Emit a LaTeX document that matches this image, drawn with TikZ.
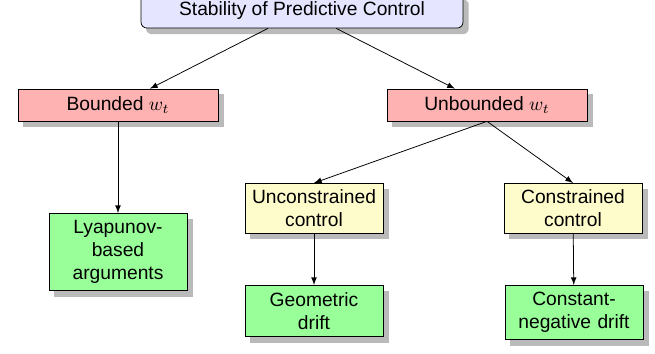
\documentclass[tikz,border=0pt]{standalone}
\usepackage{amsmath}
\usepackage{fontspec}
\setmainfont{Liberation Sans}
\usepackage{xcolor}
\usetikzlibrary{arrows}
\usetikzlibrary{backgrounds}
\begin{document}
\begin{tikzpicture}[x=0.52pt, y=-0.52pt]
\tikzstyle{pointer} = [-latex]
\tikzstyle{boxshadow} = [fill=black!27]
\tikzstyle{base} = [draw, fill=white, align=center, inner sep=3pt]
\tikzstyle{rootbox} = [base, rounded corners=3pt, fill=blue!10, minimum width=167.4pt, minimum height=17.7pt]
\tikzstyle{casebox} = [base, fill=red!30, minimum width=104pt, minimum height=16.6pt]
\tikzstyle{ctrlbox} = [base, fill=yellow!20, text width=65.8pt, inner ysep=3.2pt, anchor=north]
\tikzstyle{resbox} = [base, fill=green!40, text width=65.8pt, inner ysep=3.6pt, anchor=north]
\useasboundingbox (0,0) rectangle (655,354);
\node[rootbox] (root) at (302,11) {Stability of Predictive Control};
\node[casebox] (bounded) at (118,105) {Bounded $w_t$};
\node[casebox] (unbounded) at (487,105) {Unbounded $w_t$};
\node[resbox] (lyap) at (118,213) {Lyapunov-\\based\\arguments};
\node[ctrlbox] (uncons) at (314,183) {Unconstrained\\control};
\node[ctrlbox] (cons) at (573,183) {Constrained\\control};
\node[resbox] (geo) at (314,285) {Geometric\\drift};
\node[resbox] (drift) at (574,285) {Constant-\\negative drift};
% shadows
\begin{pgfonlayer}{background}
\fill[boxshadow, rounded corners=3pt] ([shift={(2.8pt,-3pt)}]root.south west) rectangle ([shift={(2.8pt,-3pt)}]root.north east);
\foreach \n in {bounded,unbounded,lyap,uncons,cons,geo,drift}
  \fill[boxshadow] ([shift={(2.8pt,-3pt)}]\n.south west) rectangle ([shift={(2.8pt,-3pt)}]\n.north east);
\end{pgfonlayer}
\draw [pointer] (root) edge (bounded);
\draw [pointer] (root) edge (unbounded);
\draw [pointer] (bounded) edge (lyap);
\draw [pointer] (unbounded.south) -- (uncons.north);
\draw [pointer] (unbounded.south) -- (cons.north);
\draw [pointer] (uncons) edge (geo);
\draw [pointer] (cons) edge (drift);
\end{tikzpicture}
\end{document}
